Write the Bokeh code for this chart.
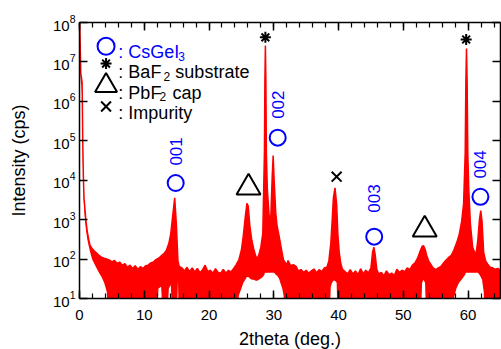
import math
from bokeh.plotting import figure
from bokeh.models import (ColumnDataSource, LogAxis, LinearAxis, FixedTicker,
                          SingleIntervalTicker, Range1d, CustomLabelingPolicy)
from bokeh.core.properties import value
from bokeh.embed import file_html
from bokeh.resources import INLINE

# ---------------- data ----------------
two_theta = [0.0, 0.1, 0.2, 0.3, 0.4, 0.5, 0.6, 0.7, 0.85, 1.0, 1.2, 1.4, 1.6, 1.8, 2.0,
             2.3, 2.6, 3.0, 3.4, 3.8, 4.2, 4.6, 5.0, 5.4, 5.8, 6.2, 6.6, 7.0, 7.4, 7.8,
             8.2, 8.6, 9.0, 9.4, 9.8, 10.2, 10.6, 11.0, 11.4, 11.8, 12.2, 12.6, 13.0,
             13.4, 13.8, 14.1, 14.4, 14.7, 14.95, 15.2, 15.4, 15.8, 16.2, 16.6, 17.0,
             17.4, 17.8, 18.2, 18.6, 19.0, 19.4, 19.8, 20.2, 20.6, 21.0, 21.4, 21.8,
             22.2, 22.6, 23.0, 23.4, 23.8, 24.2, 24.6, 25.0, 25.3, 25.6, 25.85, 26.05,
             26.3, 26.6, 26.9, 27.2, 27.45, 27.7, 28.0, 28.3, 28.55, 28.62, 28.7, 28.78,
             28.85, 29.0, 29.3, 29.55, 29.75, 29.9, 30.05, 30.3, 30.5, 30.8, 31.0, 31.3,
             31.5, 31.8, 32.0, 32.2, 32.6, 33.0, 33.4, 33.8, 34.2, 34.6, 35.0, 35.4,
             35.8, 36.2, 36.6, 37.0, 37.4, 37.8, 38.2, 38.5, 38.8, 39.0, 39.2, 39.45,
             39.7, 39.9, 40.1, 40.35, 40.6, 41.0, 41.4, 41.8, 42.2, 42.6, 43.0, 43.4,
             43.8, 44.2, 44.6, 45.0, 45.25, 45.45, 45.65, 45.9, 46.2, 46.6, 47.0, 47.4,
             47.8, 48.2, 48.6, 49.0, 49.4, 49.8, 50.2, 50.6, 51.0, 51.4, 51.8, 52.2,
             52.6, 52.9, 53.1, 53.35, 53.6, 53.9, 54.2, 54.6, 55.0, 55.4, 55.8, 56.2,
             56.6, 57.0, 57.4, 57.8, 58.2, 58.6, 59.0, 59.3, 59.55, 59.65, 59.75, 59.85,
             59.95, 60.1, 60.35, 60.7, 61.0, 61.25, 61.5, 61.75, 61.95, 62.15, 62.4,
             62.7, 63.0, 63.4, 63.8, 64.2, 64.6, 65.0]

intensity_max = [2e8, 3e7, 5e6, 4e6, 3e6, 1e5, 1.2e4, 3500, 1800, 900, 500, 330, 230, 200, 180,
                 160, 145, 125, 112, 105, 100, 95, 85, 92, 78, 84, 70, 76, 62, 70,
                 58, 68, 55, 64, 58, 68, 70, 80, 84, 97, 105, 120, 135,
                 165, 250, 450, 1300, 3600, 800, 90, 65, 60, 50, 62, 48,
                 60, 47, 58, 45, 54, 70, 48, 52, 44, 57, 46, 44,
                 55, 44, 52, 47, 58, 72, 95, 170, 400, 1200, 2600, 2200,
                 700, 300, 180, 120, 100, 130, 200, 450, 5e4, 3e6, 2.6e7, 3e6,
                 5e4, 6000, 1100, 1300, 12000, 42000, 10000, 1500, 700, 400, 260, 140,
                 95, 80, 70, 92, 68, 72, 66, 50, 54, 46, 52, 44,
                 50, 56, 45, 54, 48, 60, 62, 90, 250, 900, 3600, 6400,
                 2500, 400, 150, 76, 55, 48, 42, 54, 42, 50, 40, 57,
                 42, 52, 45, 60, 150, 200, 130, 55, 42, 46, 38, 50,
                 40, 44, 38, 55, 46, 52, 48, 60, 54, 70, 80, 105,
                 160, 210, 220, 180, 125, 90, 75, 60, 54, 60, 65, 80,
                 95, 110, 125, 170, 250, 400, 900, 2500, 5e4, 3e6, 2.2e7, 3e6,
                 5e4, 6000, 800, 200, 150, 145, 300, 1000, 1700, 900, 150,
                 90, 75, 62, 60, 55, 58, 52]

intensity_min = [1e8, 1.5e7, 3e6, 2.5e6, 1.5e6, 4e4, 5000, 2000, 1000, 550, 320, 220, 160, 120, 95,
                 75, 60, 45, 35, 25, 15, 1, 1, 1, 1, 1, 1, 1, 1, 1,
                 1, 1, 1, 1, 1, 1, 1, 1, 1, 1, 18, 20, 1,
                 1, 18, 22, 1, 1, 1, 28, 1, 1, 1, 1, 1,
                 1, 1, 1, 1, 1, 1, 1, 1, 1, 1, 1, 1,
                 1, 1, 1, 1, 1, 1, 12, 18, 25, 30, 35, 35,
                 32, 30, 30, 28, 28, 30, 32, 35, 40, 45, 45, 45,
                 45, 45, 45, 45, 45, 45, 45, 40, 38, 32, 25, 18,
                 12, 1, 1, 1, 1, 1, 1, 1, 1, 1, 1, 1,
                 1, 1, 1, 1, 1, 1, 1, 1, 20, 25, 28, 28,
                 25, 1, 1, 1, 1, 1, 1, 1, 1, 1, 1, 1,
                 1, 1, 1, 1, 1, 1, 1, 1, 1, 1, 1, 1,
                 1, 1, 1, 1, 1, 1, 1, 1, 1, 1, 1, 1,
                 1, 25, 30, 25, 1, 1, 1, 1, 1, 1, 1, 1,
                 1, 1, 1, 10, 18, 25, 30, 35, 40, 45, 45, 45,
                 45, 45, 45, 45, 45, 45, 45, 40, 35, 30, 15,
                 1, 1, 1, 1, 1, 1, 1]

# peak assignments
csgei3_x = [14.85, 30.6, 45.5, 61.9]
csgei3_y = [8500, 1.2e5, 370, 3800]
csgei3_labels = ["001", "002", "003", "004"]
csgei3_label_y = [23500, 3.6e5, 1500, 11000]
baf2_x = [28.7, 59.7]
baf2_y = [4.2e7, 3.7e7]
pbf2_x = [26.1, 53.3]
pbf2_y = [6500, 560]
impurity_x = [39.7]
impurity_y = [12300]

y_ticks = [10 ** k for k in range(1, 9)]

FONT = "Liberation Sans"
BLUE = "#0000ff"
RED = "#ff0000"

p = figure(frame_width=421, frame_height=276,
           x_range=Range1d(0, 65), y_range=Range1d(10, 1e8), y_axis_type="log",
           output_backend="svg", toolbar_location=None,
           min_border_left=79, min_border_top=22, min_border_right=0, min_border_bottom=45)
p.grid.visible = False
p.outline_line_color = None
p.background_fill_color = "white"

src = ColumnDataSource(dict(x=two_theta, top=intensity_max, bottom=intensity_min))
p.varea(x="x", y1="bottom", y2="top", source=src, fill_color=RED)
p.line(x="x", y="top", source=src, line_color=RED, line_width=1.5)

# peak markers
p.scatter(csgei3_x, csgei3_y, marker="circle", size=16, fill_color=None,
          line_color=BLUE, line_width=2)
p.text(x=csgei3_x, y=csgei3_label_y, text=csgei3_labels, angle=math.pi / 2,
       text_align="left", text_baseline="middle", text_color=BLUE,
       text_font=value(FONT), text_font_size="17px")
p.scatter(baf2_x, baf2_y, marker="asterisk", size=11, line_color="black", line_width=2)
p.scatter(pbf2_x, pbf2_y, marker="triangle", size=24, fill_color=None,
          line_color="black", line_width=2)
p.scatter(impurity_x, impurity_y, marker="x", size=14, line_color="black", line_width=2)

# legend (key)
key_x = 4.1
p.scatter([key_x], [2.5e7], marker="circle", size=17, fill_color=None, line_color=BLUE, line_width=2)
p.scatter([key_x], [9.1e6], marker="asterisk", size=11, line_color="black", line_width=2)
p.scatter([key_x], [2.5e6], marker="triangle", size=22, fill_color=None, line_color="black", line_width=2)
p.scatter([key_x], [7.4e5], marker="x", size=14, line_color="black", line_width=2)

key_text_x = [6.0, 15.25, 6.0, 12.96, 14.8, 6.0, 12.35, 14.35, 6.0]
key_text_y = [1.74e7, 1.38e7, 5.4e6, 4.3e6, 5.4e6, 1.66e6, 1.32e6, 1.66e6, 5.2e5]
key_text = [": CsGeI", "3", ": BaF", "2", "substrate", ": PbF", "2", "cap", ": Impurity"]
key_color = [BLUE, BLUE, "black", "black", "black", "black", "black", "black", "black"]
key_size = ["18px", "12px", "18px", "12px", "18px", "18px", "12px", "18px", "18px"]
p.text(x=key_text_x, y=key_text_y, text=key_text, text_color=key_color,
       text_font_size=key_size, text_font=value(FONT),
       text_align="left", text_baseline="alphabetic")

# axes
xt = SingleIntervalTicker(interval=10, num_minor_ticks=5)
yt = FixedTicker(ticks=y_ticks, minor_ticks=[])
hide_all = CustomLabelingPolicy(code="""
for (const i of indices) indices.unset(i)
return indices
""")

def style(ax, labels=True):
    ax.axis_line_color = "black"
    ax.axis_line_width = 1.5
    ax.major_tick_line_color = "black"
    ax.major_tick_line_width = 1.5
    ax.minor_tick_line_color = "black"
    ax.minor_tick_line_width = 1.2
    ax.major_tick_in = 8
    ax.major_tick_out = 0
    ax.minor_tick_in = 5
    ax.minor_tick_out = 0
    ax.major_label_text_font = FONT
    ax.major_label_text_color = "black"
    ax.axis_label_text_font = FONT
    ax.axis_label_text_font_style = "normal"
    ax.axis_label_text_font_size = "18px"
    ax.axis_label_text_color = "black"
    ax.major_label_text_font_size = "15px"
    if not labels:
        ax.major_label_text_font_size = "1px"
        ax.major_label_standoff = 0
        ax.major_label_policy = hide_all

xb = p.xaxis[0]
xb.ticker = xt
style(xb)
xb.major_label_standoff = 11
xb.axis_label = "2theta (deg.)"
xb.axis_label_standoff = 6

yl = p.yaxis[0]
yl.ticker = yt
style(yl)
yl.major_label_standoff = 4
yl.axis_label = "Intensity (cps)"
yl.axis_label_standoff = 21

xa = LinearAxis(ticker=xt)
style(xa, labels=False)
p.add_layout(xa, "above")
yr = LogAxis(ticker=yt)
style(yr, labels=False)
p.add_layout(yr, "right")

open("out.html", "w").write(file_html(p, INLINE))
